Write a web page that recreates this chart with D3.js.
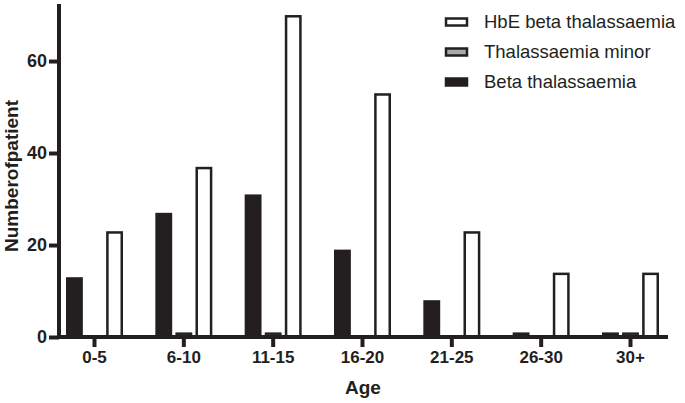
<!DOCTYPE html>
<meta charset="utf-8">
<style>
    body { margin: 0; background: #fff; }
    text { font-family: "Liberation Sans", Arial, sans-serif; fill: #231f20; }
</style>
<body>
<script src="https://cdn.jsdelivr.net/npm/d3@7"></script>
<script>
    /* data */
    var ageGroups = ["0-5", "6-10", "11-15", "16-20", "21-25", "26-30", "30+"];
    var betaThal = [13, 27, 31, 19, 8, 1, 1];
    var thalMinor = [0, 1, 1, 0, 0, 0, 1];
    var hbeBetaThal = [23, 37, 70, 53, 23, 14, 14];
    var yTicks = [0, 20, 40, 60];

    var seriesNames = ["Beta thalassaemia", "Thalassaemia minor", "HbE beta thalassaemia"];
    var seriesValues = [betaThal, thalMinor, hbeBetaThal];
    var seriesFill = ["#231f20", "#a7a9ac", "#ffffff"];
    var ink = "#231f20";

    var w = 685, h = 403;
    var svg = d3.select("body").append("svg")
        .attr("width", w)
        .attr("height", h);

    /* scales */
    var axisLeftX = 59, axisRightX = 668;
    var xScale = d3.scalePoint()
        .domain(ageGroups)
        .range([94, 630]);
    var groupScale = d3.scaleBand()
        .domain(d3.range(3))
        .range([-28, 29])
        .paddingInner(0.16);
    var yScale = d3.scaleLinear()
        .domain([0, 72.4])
        .range([337, 4]);

    /* bars, one group per series */
    seriesValues.forEach(function (vals, s) {
        var data = vals.map(function (v, i) { return { cat: ageGroups[i], v: v }; })
            .filter(function (d) { return d.v > 0; });
        svg.append("g").selectAll("rect")
            .data(data)
            .enter()
            .append("rect")
            .attr("x", function (d) { return xScale(d.cat) + groupScale(s) + 1.25; })
            .attr("width", groupScale.bandwidth() - 2.5)
            .attr("y", function (d) { return yScale(d.v) + 1.25; })
            .attr("height", function (d) { return yScale(0) - yScale(d.v) - 1.25; })
            .attr("fill", seriesFill[s])
            .attr("stroke", ink)
            .attr("stroke-width", 2.5);
    });

    /* y axis */
    var yAxis = d3.axisLeft(yScale)
        .tickValues(yTicks)
        .tickSize(10)
        .tickPadding(2);
    var gy = svg.append("g")
        .attr("transform", "translate(" + axisLeftX + ",0)")
        .call(yAxis);
    gy.select(".domain").remove();
    gy.append("line")
        .attr("x1", 0).attr("x2", 0)
        .attr("y1", yScale(72.4)).attr("y2", yScale(0) + 2)
        .attr("stroke", ink).attr("stroke-width", 4);
    gy.selectAll(".tick line").attr("stroke", ink).attr("stroke-width", 4);
    gy.selectAll(".tick text")
        .style("font-size", "18px")
        .style("font-weight", "bold")
        .attr("fill", ink);

    /* x axis */
    var xAxis = d3.axisBottom(xScale)
        .tickSize(10)
        .tickPadding(4);
    var gx = svg.append("g")
        .attr("transform", "translate(0," + yScale(0) + ")")
        .call(xAxis);
    gx.select(".domain").remove();
    gx.append("line")
        .attr("x1", axisLeftX - 2).attr("x2", axisRightX)
        .attr("y1", 0).attr("y2", 0)
        .attr("stroke", ink).attr("stroke-width", 4);
    gx.selectAll(".tick line").attr("stroke", ink).attr("stroke-width", 4);
    gx.selectAll(".tick text")
        .style("font-size", "17px")
        .style("font-weight", "bold")
        .attr("fill", ink);

    /* axis titles */
    svg.append("text")
        .attr("x", 363)
        .attr("y", 394)
        .attr("text-anchor", "middle")
        .style("font-size", "19px")
        .style("font-weight", "bold")
        .text("Age");
    svg.append("text")
        .attr("transform", "translate(18,176) rotate(-90)")
        .attr("text-anchor", "middle")
        .style("font-size", "19px")
        .style("font-weight", "bold")
        .text("Numberofpatient");

    /* legend */
    var legendOrder = [2, 1, 0];
    var legend = svg.append("g");
    legendOrder.forEach(function (s, k) {
        var ly = 22 + k * 30;
        legend.append("rect")
            .attr("x", 446)
            .attr("y", ly - 3.5)
            .attr("width", 21)
            .attr("height", 7)
            .attr("fill", seriesFill[s])
            .attr("stroke", ink)
            .attr("stroke-width", 2.5);
        legend.append("text")
            .attr("x", 484)
            .attr("y", ly + 5.5)
            .style("font-size", "18.5px")
            .text(seriesNames[s]);
    });
</script>
</body>
